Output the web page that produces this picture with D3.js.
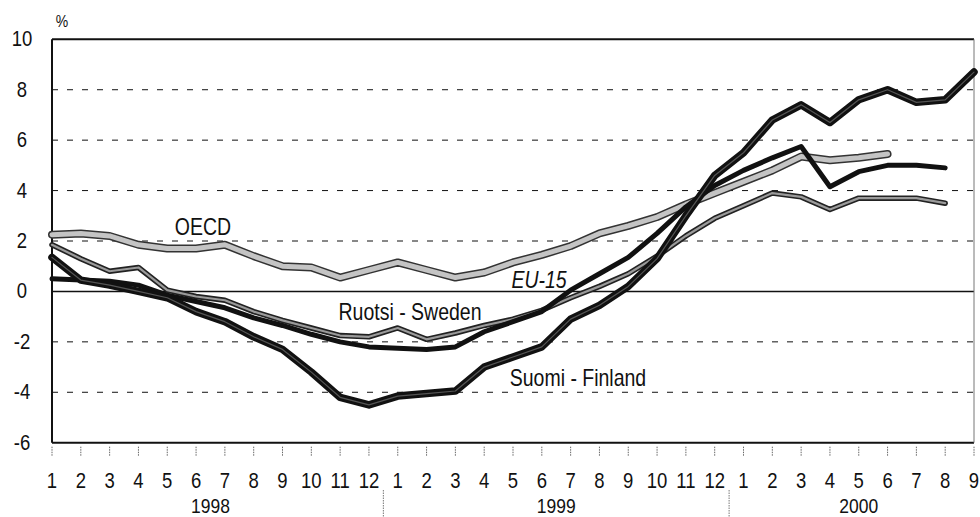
<!DOCTYPE html>
<html>
<head>
<meta charset="utf-8">
<script src="https://cdn.jsdelivr.net/npm/d3@7"></script>
<style>
  html, body { margin: 0; padding: 0; background: #fff; }
  svg { display: block; }
  text { font-family: "Liberation Sans", Arial, sans-serif; fill: #111; }
</style>
</head>
<body>
<svg id="chart" width="980" height="517"></svg>
<script>
// ---- Data (year-on-year change, %) ----
const monthLabels = ["1","2","3","4","5","6","7","8","9","10","11","12",
                     "1","2","3","4","5","6","7","8","9","10","11","12",
                     "1","2","3","4","5","6","7","8","9"];
const years = ["1998", "1999", "2000"];
const yTicks = [10, 8, 6, 4, 2, 0, -2, -4, -6];

const finland = [1.35, 0.45, 0.25, 0.0, -0.25, -0.8, -1.2, -1.8, -2.3, -3.2, -4.2, -4.5,
                 -4.15, -4.05, -3.95, -3.0, -2.6, -2.2, -1.1, -0.55, 0.2, 1.3, 3.0, 4.6,
                 5.5, 6.8, 7.4, 6.7, 7.6, 8.0, 7.5, 7.6, 8.7];
const eu15 = [0.5, 0.45, 0.4, 0.25, -0.15, -0.4, -0.65, -1.05, -1.35, -1.7, -2.0, -2.2,
              -2.25, -2.3, -2.2, -1.6, -1.2, -0.8, 0.05, 0.7, 1.35, 2.3, 3.35, 4.2,
              4.8, 5.3, 5.75, 4.15, 4.75, 5.0, 5.0, 4.9];
const sweden = [1.85, 1.3, 0.8, 0.95, 0.05, -0.2, -0.35, -0.8, -1.15, -1.45, -1.75, -1.8,
                -1.45, -1.9, -1.65, -1.35, -1.1, -0.75, -0.25, 0.2, 0.7, 1.4, 2.2, 2.9,
                3.4, 3.9, 3.75, 3.25, 3.7, 3.7, 3.7, 3.5];
const oecd = [2.25, 2.3, 2.2, 1.85, 1.7, 1.7, 1.85, 1.4, 1.0, 0.95, 0.55, 0.85,
              1.15, 0.85, 0.55, 0.75, 1.15, 1.45, 1.8, 2.3, 2.6, 2.95, 3.45, 3.9,
              4.35, 4.8, 5.35, 5.2, 5.3, 5.45];

// ---- Layout ----
const svg = d3.select("#chart");
const x0 = 52, x1 = 974, yTop = 39.3, yBot = 442.7;
const x = d3.scaleLinear().domain([0, monthLabels.length - 1]).range([x0, x1]);
const y = d3.scaleLinear().domain([-6, 10]).range([yBot, yTop]);

// text helper: tall lettering as in the scanned original
function label(g, tx, ty, str, size, opts = {}) {
  return g.append("text")
    .attr("transform", `translate(${tx},${ty}) scale(${opts.sx || 1},${opts.sy || 1.2})`)
    .attr("text-anchor", opts.anchor || "middle")
    .attr("font-size", size)
    .attr("font-style", opts.italic ? "italic" : null)
    .text(str);
}

// grid
const grid = svg.append("g");
yTicks.forEach(v => {
  const solid = (v === 10 || v === 0 || v === -6);
  grid.append("line")
    .attr("x1", x0).attr("x2", x1)
    .attr("y1", y(v)).attr("y2", y(v))
    .attr("stroke", "#111")
    .attr("stroke-width", solid ? (v === 0 ? 1.6 : 2) : 1)
    .attr("stroke-dasharray", solid ? null : "6,9");
});
grid.append("line").attr("x1", x0).attr("x2", x0).attr("y1", yTop).attr("y2", yBot)
  .attr("stroke", "#111").attr("stroke-width", 2);
grid.append("line").attr("x1", x1).attr("x2", x1).attr("y1", yTop).attr("y2", yBot)
  .attr("stroke", "#777").attr("stroke-width", 1);

// y labels
const yl = svg.append("g");
yTicks.forEach(v => label(yl, 22, y(v) + 7, String(v), 18.5));
label(yl, 62, 27, "%", 14);

// x axis ticks & labels
const xa = svg.append("g");
monthLabels.forEach((m, i) => {
  xa.append("line").attr("x1", x(i)).attr("x2", x(i))
    .attr("y1", yBot + 4).attr("y2", yBot + 13)
    .attr("stroke", "#666").attr("stroke-width", 1).attr("stroke-dasharray", "1.5,1");
  label(xa, x(i), 488, m, 18.5);
});
[11.5, 23.5].forEach(p => {
  xa.append("line").attr("x1", x(p)).attr("x2", x(p))
    .attr("y1", 490).attr("y2", 517)
    .attr("stroke", "#777").attr("stroke-width", 1).attr("stroke-dasharray", "1.5,1");
});
const yearCenters = [5.5, 17.5, 28];
years.forEach((yr, i) => label(xa, x(yearCenters[i]), 513, yr, 17.5));

// ---- Lines ----
const line = d3.line()
  .defined(d => d != null)
  .x((d, i) => x(i)).y(d => y(d))
  .curve(d3.curveLinear);

function draw(data, layers) {
  layers.forEach(l => {
    svg.append("path").datum(data)
      .attr("d", line)
      .attr("fill", "none")
      .attr("stroke", l.c)
      .attr("stroke-width", l.w)
      .attr("stroke-linejoin", "round")
      .attr("stroke-linecap", "round");
  });
}

draw(sweden, [{c: "#222", w: 5.5}, {c: "#9a9a9a", w: 2.2}]);
draw(oecd, [{c: "#333", w: 8}, {c: "#c4c4c4", w: 5}]);
draw(eu15, [{c: "#111", w: 5}]);
draw(finland, [{c: "#111", w: 7.5}, {c: "#555", w: 1.2}]);

// ---- Series labels ----
const sl = svg.append("g");
label(sl, 203, 235, "OECD", 19.5);
label(sl, 539, 288, "EU-15", 19.5, {italic: true});
label(sl, 410, 320, "Ruotsi - Sweden", 19.5);
label(sl, 578, 386, "Suomi - Finland", 19.5);
</script>
</body>
</html>
